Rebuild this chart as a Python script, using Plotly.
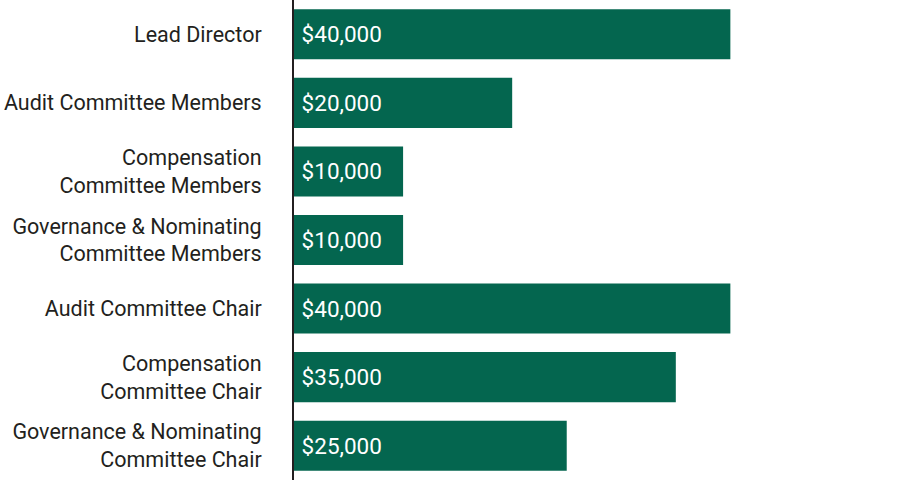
import plotly.graph_objects as go

categories = [
    "Lead Director",
    "Audit Committee Members",
    "Compensation<br>Committee Members",
    "Governance & Nominating<br>Committee Members",
    "Audit Committee Chair",
    "Compensation<br>Committee Chair",
    "Governance & Nominating<br>Committee Chair",
]
values = [40000, 20000, 10000, 10000, 40000, 35000, 25000]
labels = ["\u2009${:,.0f}".format(v) for v in values]

fig = go.Figure(
    go.Bar(
        x=values,
        y=categories,
        orientation="h",
        marker=dict(color="#04664F", line=dict(width=0)),
        text=labels,
        textposition="inside",
        insidetextanchor="start",
        textfont=dict(family="Roboto", size=22.5, color="white"),
        cliponaxis=False,
    )
)

fig.update_layout(
    width=920,
    height=480,
    margin=dict(l=294, r=26, t=0, b=0),
    paper_bgcolor="white",
    plot_bgcolor="white",
    bargap=0.27,
    showlegend=False,
    font=dict(family="Roboto", size=21, color="#231f20"),
)
fig.update_xaxes(range=[0, 55000], visible=False, showgrid=False, zeroline=False)
fig.update_yaxes(
    autorange="reversed",
    showline=True,
    linewidth=2,
    linecolor="#231f20",
    showgrid=False,
    ticks="",
    ticklabelstandoff=26,
    tickfont=dict(family="Roboto", size=21.5, color="#231f20"),
)

fig.write_html("out.html")
